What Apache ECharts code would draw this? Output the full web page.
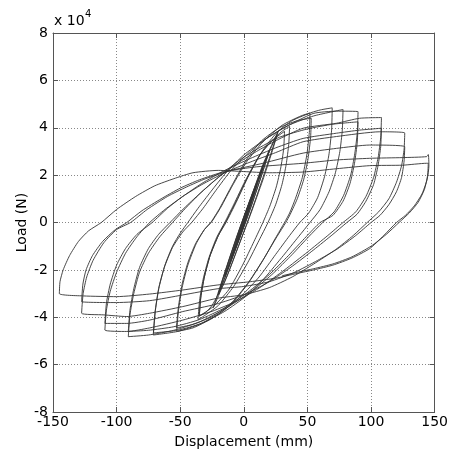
<!DOCTYPE html>
<html>
<head>
<meta charset="utf-8">
<script src="https://cdn.jsdelivr.net/npm/echarts@6.0.0/dist/echarts.min.js"></script>
<style>html,body{margin:0;padding:0;background:#fff;}#main{width:451px;height:457px;}</style>
</head>
<body>
<div id="main"></div>
<script>
// Displacement (mm), Load (x 10^4 N) — branches of the cyclic test, in order
const elastic = [[0,0],[5,0.75],[2,0.3],[0,0],[-5,-0.75],[-2,-0.3],[0,0],[5,0.8],[10,1.55],[6,0.9],[0,-0.05],[-5,-0.8],[-10,-1.5],[-6,-0.85],[0,0.05],[5,0.85],[10,1.6],[5,0.8],[0,-0.1],[-10,-1.55],[-5,-0.75],[0,0.1],[8,1.3],[15,2.3],[10,1.5],[0,-0.1],[-8,-1.3],[-15,-2.25],[-10,-1.45],[0,0.15],[15,2.35],[10,1.55],[0,-0.15],[-15,-2.3],[-10,-1.5],[0,0.2],[10,1.65],[20,3.0],[14,2.0],[5,0.55],[-5,-0.9],[-15,-2.35],[-20,-3.0],[-14,-1.95],[-5,-0.5],[5,0.95],[20,3.05],[14,2.0],[0,-0.2],[-20,-3.05],[-14,-2.0],[0,0.25],[14,2.25],[26,3.7],[20,2.7],[10,1.1],[0,-0.4],[-12,-2.1],[-24,-3.6],[-18,-2.6],[-8,-1.0],[4,0.8],[15,2.45],[27,3.85]];
const unloadE = [[27,3.85],[22,2.95],[15,1.8],[5,0.3],[-5,-1.1],[-15,-2.5],[-25,-3.5],[-30,-3.8],[-35,-3.95]];
const load36a = [[-35,-3.95],[-33.8,-3.15],[-31,-2.3],[-26.5,-1.4],[-20,-0.55],[-14,0.05],[-7,0.8],[2,1.8],[12,2.8],[22,3.45],[30,3.85],[36,4.06]];
const unload36a = [[36,4.06],[35.3,3.3],[33.3,2.45],[30,1.6],[25,0.75],[19,0],[12,-0.75],[3,-1.7],[-8,-2.7],[-20,-3.5],[-30,-3.9],[-36,-4.1]];
const load36b = [[-36,-4.1],[-34.8,-3.3],[-32,-2.4],[-27.5,-1.5],[-21.5,-0.65],[-15,0],[-8,0.75],[1,1.75],[12,2.8],[22,3.45],[32,3.85]];
const unload36b = [[32,3.85],[31.3,3.1],[29,2.3],[25.5,1.5],[20.5,0.7],[15,0],[8,-0.8],[-1,-1.8],[-12,-2.85],[-24,-3.55],[-35,-3.95]];
const load53a = [[-35,-3.95],[-33.8,-3.15],[-31,-2.3],[-26.5,-1.4],[-20,-0.55],[-14,0],[-6,0.85],[4,2.0],[15,3.05],[26,3.8],[38,4.3],[52,4.62]];
const unload53a = [[52,4.62],[51.5,3.8],[49.5,2.85],[46,1.9],[40.5,1.0],[36,0.4],[32,0],[25,-0.65],[15,-1.6],[3,-2.6],[-10,-3.45],[-25,-4.05],[-40,-4.45],[-52.8,-4.6]];
const load53b = [[-52.8,-4.6],[-51.3,-3.7],[-48.5,-2.75],[-44,-1.8],[-37.5,-0.9],[-31,-0.3],[-26,0],[-19,0.6],[-9,1.6],[2,2.65],[14,3.45],[28,4.0],[42,4.3],[53,4.4]];
const unload53b = [[53,4.4],[52.5,3.6],[50.5,2.7],[47,1.8],[42,1.0],[36.5,0.35],[33,0],[26,-0.6],[16,-1.5],[4,-2.5],[-9,-3.35],[-24,-3.95],[-40,-4.3],[-53,-4.45]];
const load70a = [[-53,-4.45],[-51.5,-3.6],[-48.5,-2.6],[-44,-1.7],[-38,-0.9],[-31,-0.3],[-25,0.05],[-18,0.65],[-9,1.55],[2,2.55],[15,3.4],[30,4.1],[45,4.5],[60,4.75],[69.5,4.84]];
const unload70a = [[69.5,4.84],[69,3.9],[67,2.9],[63.5,1.95],[58,1.05],[51,0.4],[44,0],[36,-0.55],[25,-1.35],[12,-2.3],[-2,-3.1],[-18,-3.8],[-35,-4.3],[-52,-4.6],[-71.2,-4.75]];
const load70b = [[-71.2,-4.75],[-69.8,-3.8],[-67,-2.8],[-62.5,-1.9],[-56,-1.05],[-48,-0.4],[-41,0],[-32,0.6],[-22,1.35],[-10,2.2],[3,2.9],[18,3.55],[35,4.1],[55,4.5],[78,4.77]];
const unload70b = [[78,4.77],[77.4,3.9],[75.5,3.0],[72,2.1],[67,1.3],[60,0.55],[52,0],[43,-0.6],[31,-1.4],[17,-2.3],[2,-3.1],[-15,-3.75],[-33,-4.25],[-52,-4.55],[-71,-4.66]];
const load90a = [[-71,-4.66],[-69.5,-3.7],[-66.5,-2.7],[-62,-1.8],[-56,-1.0],[-50,-0.45],[-44,0],[-36,0.6],[-26,1.3],[-14,2.1],[0,2.85],[15,3.45],[30,3.95],[54.5,4.6],[72.9,4.7],[89.8,4.68]];
const unload90a = [[89.8,4.68],[89.2,3.8],[87.2,2.9],[84,2.0],[78.5,1.15],[71,0.45],[62,0],[51,-0.6],[38,-1.35],[22,-2.2],[5,-2.95],[-15,-3.65],[-35,-4.2],[-55,-4.55],[-75,-4.75],[-90.8,-4.82]];
const load90b = [[-90.8,-4.82],[-89.5,-3.9],[-86.5,-3.0],[-82,-2.1],[-75,-1.3],[-66,-0.6],[-56,0],[-45,0.65],[-33,1.3],[-18,2.0],[-3,2.65],[12,3.15],[28,3.6],[50,3.95],[70,4.15],[89.8,4.25]];
const unload90b = [[89.8,4.25],[89.2,3.4],[87,2.5],[83.5,1.65],[78,0.9],[70,0.3],[60,0],[49,-0.6],[35,-1.4],[20,-2.2],[3,-2.95],[-15,-3.6],[-35,-4.1],[-55,-4.4],[-75,-4.55],[-90.8,-4.6]];
const load108a = [[-90.8,-4.6],[-89.5,-3.7],[-86.5,-2.8],[-82,-1.9],[-75,-1.1],[-67,-0.5],[-58,0],[-47,0.6],[-35,1.2],[-20,1.9],[-5,2.5],[10,3.0],[25,3.45],[46.6,3.98],[72.9,4.19],[91,4.4],[108.2,4.43]];
const unload108a = [[108.2,4.43],[107.6,3.6],[105.6,2.75],[102,1.9],[96,1.1],[88,0.45],[78,0],[66,-0.55],[50,-1.25],[32,-2.0],[14,-2.7],[-5,-3.3],[-25,-3.75],[-48,-4.12],[-74,-4.45],[-92,-4.6],[-109.2,-4.54]];
const load108b = [[-109.2,-4.54],[-108,-3.7],[-105,-2.9],[-100,-2.1],[-93,-1.3],[-84,-0.6],[-74,0],[-62,0.55],[-48,1.1],[-33,1.65],[-15,2.2],[5,2.7],[25,3.15],[46.6,3.55],[72.9,3.77],[91,3.9],[108.2,3.98]];
const unload108b = [[108.2,3.98],[107.6,3.2],[105.5,2.4],[102,1.6],[96,0.9],[89,0.35],[81,0],[70,-0.5],[55,-1.15],[38,-1.85],[20,-2.5],[0,-3.05],[-22,-3.45],[-48,-3.76],[-74,-4.12],[-92,-4.26],[-109.2,-4.26]];
const load126a = [[-109.2,-4.26],[-108,-3.4],[-105,-2.6],[-100,-1.8],[-93,-1.1],[-84,-0.5],[-72,0],[-60,0.6],[-48,1.1],[-33,1.6],[-15,2.1],[5,2.55],[25,2.95],[46.6,3.41],[72.9,3.63],[106.9,3.83],[126.5,3.78]];
const unload126a = [[126.5,3.78],[126,3.1],[124,2.4],[120,1.7],[114,1.0],[106,0.45],[97,0],[86,-0.55],[72,-1.15],[55,-1.75],[38,-2.3],[20,-2.75],[0,-3.05],[-21,-3.2],[-48,-3.55],[-74,-3.83],[-92,-3.97],[-110,-3.9],[-127.5,-3.83]];
const load126b = [[-127.5,-3.83],[-126.3,-3.0],[-123.5,-2.3],[-118.5,-1.6],[-110,-0.85],[-100,-0.3],[-89,0],[-76,0.55],[-60,1.1],[-45,1.5],[-30,1.85],[-10,2.2],[15,2.5],[46.6,2.93],[72.9,3.13],[99,3.27],[126.5,3.2]];
const unload126b = [[126.5,3.2],[126,2.6],[124,1.9],[120,1.3],[114,0.75],[107,0.3],[100,0],[88,-0.55],[74,-1.1],[58,-1.6],[40,-2.1],[20,-2.5],[0,-2.7],[-21,-2.8],[-48,-3.06],[-74,-3.3],[-100,-3.38],[-127.5,-3.34]];
const load145a = [[-127.5,-3.34],[-126.5,-2.6],[-124,-2.0],[-119,-1.4],[-111,-0.8],[-101,-0.3],[-92,0],[-80,0.5],[-65,1.0],[-50,1.45],[-35,1.8],[-15,2.15],[10,2.35],[46.6,2.5],[72.9,2.64],[99,2.71],[125,2.74],[143.6,2.78],[145,2.87]];
const unload145a = [[145,2.87],[145.5,2.4],[144,1.8],[140,1.2],[134,0.7],[127,0.3],[120,0],[110,-0.55],[99,-1.1],[85,-1.5],[70,-1.8],[55,-2.0],[42,-2.15],[25,-2.35],[5,-2.5],[-21,-2.64],[-48,-2.85],[-74,-3.02],[-100,-3.13],[-126,-3.1],[-145,-3.0]];
const load145b = [[-145,-3.0],[-144.5,-2.5],[-142,-2.0],[-137,-1.4],[-130,-0.8],[-122,-0.35],[-112,0],[-100,0.55],[-85,1.1],[-70,1.55],[-55,1.85],[-40,2.1],[-20,2.2],[0,2.15],[20,2.1],[46.6,2.13],[72.9,2.27],[99,2.4],[125,2.42],[143.6,2.5],[145,2.5]];
const unload145b = [[145,2.5],[144.5,2.0],[142,1.4],[137,0.85],[130,0.4],[122,0],[112,-0.5],[100,-1.0],[85,-1.45],[70,-1.75],[55,-1.95],[42,-2.1],[30,-2.25]];

const xTickValues = [-150, -100, -50, 0, 50, 100, 150];
const yTickValues = [-8, -6, -4, -2, 0, 2, 4, 6, 8];

const path = [].concat(elastic, unloadE, load36a, unload36a, load36b, unload36b,
  load53a, unload53a, load53b, unload53b, load70a, unload70a, load70b, unload70b,
  load90a, unload90a, load90b, unload90b, load108a, unload108a, load108b, unload108b,
  load126a, unload126a, load126b, unload126b, load145a, unload145a, load145b, unload145b);

const FONT = 'DejaVu Sans';
const frameColor = '#555';
const xStep = xTickValues[1] - xTickValues[0];
const yStep = yTickValues[1] - yTickValues[0];

function axisBase(min, max, interval, position) {
  return {
    type: 'value', min: min, max: max, interval: interval, position: position,
    axisLine: { show: true, onZero: false, lineStyle: { color: frameColor, width: 1 } },
    axisTick: { show: true, inside: true, length: 5, lineStyle: { color: frameColor } },
    splitLine: { show: false }
  };
}

const xMain = axisBase(xTickValues[0], xTickValues[xTickValues.length - 1], xStep, 'bottom');
xMain.name = 'Displacement (mm)';
xMain.nameLocation = 'middle';
xMain.nameGap = 23;
xMain.nameMoveOverlap = false;
xMain.nameTextStyle = { fontFamily: FONT, fontSize: 14, color: '#000' };
xMain.axisLabel = { fontFamily: FONT, fontSize: 14, color: '#000', margin: 3, showMinLabel: true, showMaxLabel: true };
xMain.splitLine = { show: true, lineStyle: { color: '#888', type: [1, 2], width: 1 } };

const xTop = axisBase(xTickValues[0], xTickValues[xTickValues.length - 1], xStep, 'top');
xTop.axisLabel = { show: false };

const yMain = axisBase(yTickValues[0], yTickValues[yTickValues.length - 1], yStep, 'left');
yMain.name = 'Load (N)';
yMain.nameLocation = 'middle';
yMain.nameGap = 24;
yMain.nameMoveOverlap = false;
yMain.nameTextStyle = { fontFamily: FONT, fontSize: 14, color: '#000' };
yMain.axisLabel = { fontFamily: FONT, fontSize: 14, color: '#000', margin: 5, showMinLabel: true, showMaxLabel: true };
yMain.splitLine = { show: true, lineStyle: { color: '#888', type: [1, 2], width: 1 } };

const yRight = axisBase(yTickValues[0], yTickValues[yTickValues.length - 1], yStep, 'right');
yRight.axisLabel = { show: false };

const chart = echarts.init(document.getElementById('main'), null, { renderer: 'canvas' });
chart.setOption({
  animation: false,
  backgroundColor: '#fff',
  grid: { left: 53, right: 16, top: 33, bottom: 45 },
  xAxis: [xMain, xTop],
  yAxis: [yMain, yRight],
  graphic: [
    { type: 'text', left: 54, top: 14, style: { text: 'x 10', fontFamily: FONT, fontSize: 14, fill: '#000' } },
    { type: 'text', left: 85, top: 9, style: { text: '4', fontFamily: FONT, fontSize: 10, fill: '#000' } }
  ],
  series: [{
    type: 'line',
    xAxisIndex: 0, yAxisIndex: 0,
    data: path,
    symbol: 'none',
    smooth: 0.2,
    lineStyle: { color: '#333', width: 0.9 }
  }]
});
</script>
</body>
</html>
